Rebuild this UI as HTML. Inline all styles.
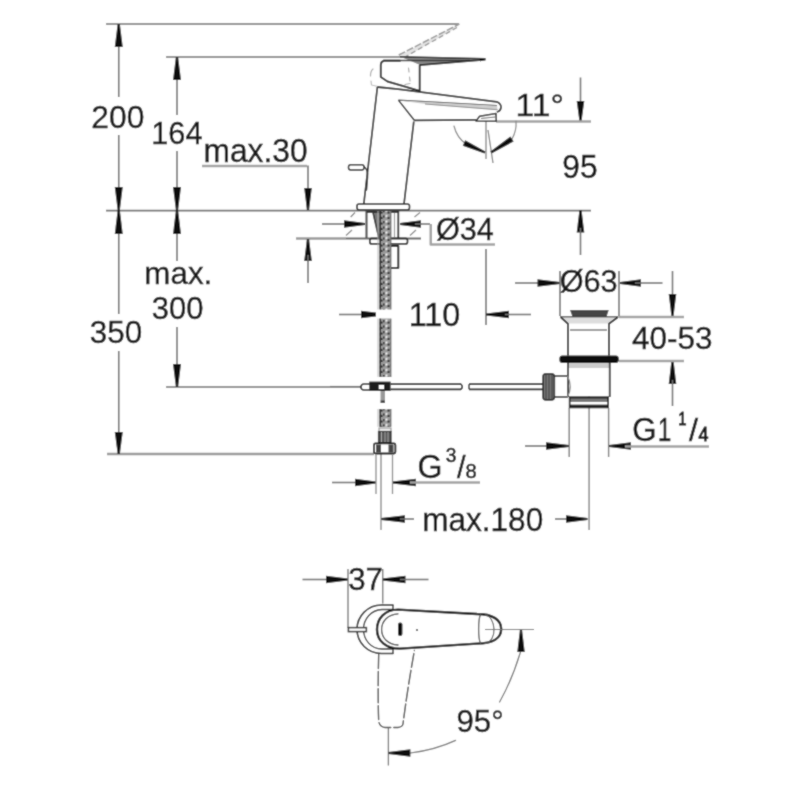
<!DOCTYPE html>
<html><head><meta charset="utf-8"><style>
html,body{margin:0;padding:0;background:#fff;}
svg{display:block;font-family:"Liberation Sans",sans-serif;will-change:transform;}
</style></head><body>
<svg width="800" height="800" viewBox="0 0 800 800">
<defs><filter id="bl" x="0" y="0" width="800" height="800" filterUnits="userSpaceOnUse"><feConvolveMatrix order="3" kernelMatrix="1 2 1 2 12 2 1 2 1" divisor="24" edgeMode="duplicate"/></filter></defs>
<rect width="800" height="800" fill="#fff"/>
<g filter="url(#bl)">
<rect width="800" height="800" fill="#fff"/>
<line x1="106" y1="24" x2="459" y2="24" stroke="#6e6e6e" stroke-width="1.6" />
<line x1="166" y1="57" x2="405" y2="57" stroke="#6e6e6e" stroke-width="1.6" />
<line x1="106" y1="210.6" x2="591" y2="210.6" stroke="#6e6e6e" stroke-width="1.6" />
<line x1="166" y1="387" x2="361" y2="387" stroke="#6e6e6e" stroke-width="1.6" />
<line x1="107" y1="454" x2="374" y2="454" stroke="#999" stroke-width="2.4" />
<line x1="118.75" y1="24" x2="118.75" y2="97" stroke="#6e6e6e" stroke-width="1.6" />
<line x1="118.75" y1="135" x2="118.75" y2="314" stroke="#6e6e6e" stroke-width="1.6" />
<line x1="118.75" y1="351" x2="118.75" y2="454" stroke="#6e6e6e" stroke-width="1.6" />
<polygon points="119.85,24.00 122.75,47.00 114.75,47.00 117.65,24.00" fill="#111"/>
<polygon points="117.65,210.00 114.75,187.00 122.75,187.00 119.85,210.00" fill="#111"/>
<polygon points="119.85,210.00 122.75,234.00 114.75,234.00 117.65,210.00" fill="#111"/>
<polygon points="117.65,454.00 114.75,432.00 122.75,432.00 119.85,454.00" fill="#111"/>
<line x1="177" y1="57" x2="177" y2="115" stroke="#6e6e6e" stroke-width="1.6" />
<line x1="177" y1="151" x2="177" y2="261" stroke="#6e6e6e" stroke-width="1.6" />
<line x1="177" y1="327" x2="177" y2="387" stroke="#6e6e6e" stroke-width="1.6" />
<polygon points="178.10,57.00 181.00,80.00 173.00,80.00 175.90,57.00" fill="#111"/>
<polygon points="175.90,210.00 173.00,187.00 181.00,187.00 178.10,210.00" fill="#111"/>
<polygon points="178.10,210.00 181.00,234.00 173.00,234.00 175.90,210.00" fill="#111"/>
<polygon points="175.90,387.00 173.00,364.00 181.00,364.00 178.10,387.00" fill="#111"/>
<text transform="translate(91.31,128.18) scale(0.9851,1)" font-size="32.25" fill="#141414" stroke="#141414" stroke-width="0.4">200</text>
<text transform="translate(151.30,144.28) scale(0.9678,1)" font-size="31.69" fill="#141414" stroke="#141414" stroke-width="0.4">164</text>
<text transform="translate(89.84,343.48) scale(0.9816,1)" font-size="31.97" fill="#141414" stroke="#141414" stroke-width="0.4">350</text>
<text transform="translate(144.36,283.58) scale(0.9950,1)" font-size="31.50" fill="#141414" stroke="#141414" stroke-width="0.4">max.</text>
<text transform="translate(151.86,319.18) scale(0.9764,1)" font-size="31.69" fill="#141414" stroke="#141414" stroke-width="0.4">300</text>
<text transform="translate(203.54,161.77) scale(0.9758,1)" font-size="32.54" fill="#141414" stroke="#141414" stroke-width="0.4">max.30</text>
<line x1="202" y1="166" x2="307" y2="166" stroke="#a2a2a2" stroke-width="2.5" />
<line x1="308" y1="165.5" x2="308" y2="200" stroke="#6e6e6e" stroke-width="1.6" />
<polygon points="306.90,210.00 304.20,188.00 311.80,188.00 309.10,210.00" fill="#111"/>
<line x1="296" y1="238.5" x2="346" y2="238.5" stroke="#9a9a9a" stroke-width="2.6" />
<line x1="346" y1="238.5" x2="421" y2="238.5" stroke="#666" stroke-width="2.2" />
<polygon points="309.10,239.00 311.80,261.00 304.20,261.00 306.90,239.00" fill="#111"/>
<line x1="308" y1="255" x2="308" y2="283" stroke="#6e6e6e" stroke-width="1.6" />
<line x1="322" y1="224" x2="350" y2="224" stroke="#6e6e6e" stroke-width="1.6" />
<polygon points="365.00,225.10 344.00,227.80 344.00,220.20 365.00,222.90" fill="#111"/>
<polygon points="400.00,222.90 421.00,220.20 421.00,227.80 400.00,225.10" fill="#111"/>
<line x1="415" y1="224" x2="430" y2="224" stroke="#6e6e6e" stroke-width="1.6" />
<polyline points="430.75,224 430.75,244.5 495,244.5" fill="none" stroke="#a2a2a2" stroke-width="2.5" stroke-linejoin="round" />
<text transform="translate(435.93,239.63) scale(1.0003,1)" font-size="30.68" fill="#141414" stroke="#141414" stroke-width="0.4">Ø34</text>
<line x1="339" y1="314.5" x2="365" y2="314.5" stroke="#6e6e6e" stroke-width="1.6" />
<polygon points="384.00,315.60 361.00,318.30 361.00,310.70 384.00,313.40" fill="#111"/>
<text transform="translate(408.67,325.57) scale(0.9905,1)" font-size="32.68" fill="#141414" stroke="#141414" stroke-width="0.4">110</text>
<line x1="486" y1="249" x2="486" y2="325" stroke="#6e6e6e" stroke-width="1.6" />
<polygon points="486.00,313.40 509.00,310.70 509.00,318.30 486.00,315.60" fill="#111"/>
<line x1="505" y1="314.5" x2="531" y2="314.5" stroke="#6e6e6e" stroke-width="1.6" />
<line x1="515" y1="283" x2="545" y2="283" stroke="#6e6e6e" stroke-width="1.6" />
<polygon points="560.00,284.10 537.50,286.80 537.50,279.20 560.00,281.90" fill="#111"/>
<polygon points="620.00,281.90 641.00,279.20 641.00,286.80 620.00,284.10" fill="#111"/>
<line x1="635" y1="283" x2="662.5" y2="283" stroke="#6e6e6e" stroke-width="1.6" />
<line x1="560" y1="271" x2="560" y2="316" stroke="#6e6e6e" stroke-width="1.6" />
<line x1="619" y1="271" x2="619" y2="316" stroke="#6e6e6e" stroke-width="1.6" />
<text transform="translate(559.63,292.23) scale(0.9952,1)" font-size="30.81" fill="#141414" stroke="#141414" stroke-width="0.4">Ø63</text>
<line x1="672.5" y1="271" x2="672.5" y2="300" stroke="#6e6e6e" stroke-width="1.6" />
<polygon points="671.40,316.00 668.70,294.00 676.30,294.00 673.60,316.00" fill="#111"/>
<polygon points="673.60,361.00 676.30,384.00 668.70,384.00 671.40,361.00" fill="#111"/>
<line x1="672.5" y1="380" x2="672.5" y2="406" stroke="#6e6e6e" stroke-width="1.6" />
<line x1="619" y1="317" x2="684" y2="317" stroke="#a2a2a2" stroke-width="2.5" />
<line x1="619" y1="361" x2="684" y2="361" stroke="#a2a2a2" stroke-width="2.5" />
<text transform="translate(631.91,348.78) scale(0.9892,1)" font-size="31.83" fill="#141414" stroke="#141414" stroke-width="0.4">40-53</text>
<line x1="580.5" y1="77.5" x2="580.5" y2="105" stroke="#6e6e6e" stroke-width="1.6" />
<polygon points="579.40,121.00 576.70,101.00 584.30,101.00 581.60,121.00" fill="#111"/>
<polygon points="581.60,210.00 584.30,232.50 576.70,232.50 579.40,210.00" fill="#111"/>
<line x1="580.5" y1="228" x2="580.5" y2="255" stroke="#6e6e6e" stroke-width="1.6" />
<line x1="496" y1="121.5" x2="591" y2="121.5" stroke="#a2a2a2" stroke-width="2.5" />
<text transform="translate(562.32,177.77) scale(0.9746,1)" font-size="32.54" fill="#141414" stroke="#141414" stroke-width="0.4">95</text>
<text transform="translate(515.57,116.25) scale(1.0482,1)" font-size="32.14" fill="#141414" stroke="#141414" stroke-width="0.4">11°</text>
<line x1="486" y1="121" x2="486" y2="159" stroke="#777" stroke-width="1.2" />
<line x1="488" y1="130" x2="493" y2="163" stroke="#777" stroke-width="1.2" />
<path d="M454,126 A31,31 0 0,0 466,144" fill="none" stroke="#888" stroke-width="1.2" stroke-linejoin="round" stroke-linecap="round" />
<polygon points="484.55,153.50 462.76,145.73 465.24,140.27 485.45,151.50" fill="#111"/>
<path d="M516,121 A31,31 0 0,1 512,139" fill="none" stroke="#888" stroke-width="1.2" stroke-linejoin="round" stroke-linecap="round" />
<polygon points="490.41,151.57 510.38,136.48 513.62,141.52 491.59,153.43" fill="#111"/>
<line x1="525" y1="446" x2="550" y2="446" stroke="#6e6e6e" stroke-width="1.6" />
<polygon points="569.00,447.10 546.00,449.80 546.00,442.20 569.00,444.90" fill="#111"/>
<polygon points="609.00,444.90 631.00,442.20 631.00,449.80 609.00,447.10" fill="#111"/>
<line x1="625" y1="446.5" x2="709" y2="446.5" stroke="#a2a2a2" stroke-width="2.5" />
<text transform="translate(632.24,440.67) scale(0.9413,1)" font-size="33.17" fill="#141414" stroke="#141414" stroke-width="0.4">G</text>
<text transform="translate(657.67,441.00) scale(0.7326,1)" font-size="33.33" fill="#141414" stroke="#141414" stroke-width="0.4">1</text>
<text transform="translate(678.29,424.80) scale(0.8087,1)" font-size="18.26" fill="#141414" stroke="#141414" stroke-width="0.9">1</text>
<text transform="translate(688.90,441.28) scale(1.0079,1)" font-size="32.11" fill="#141414" stroke="#141414" stroke-width="0.5">/</text>
<text transform="translate(698.45,441.00) scale(0.9031,1)" font-size="19.71" fill="#141414" stroke="#141414" stroke-width="1.0">4</text>
<line x1="332" y1="482.5" x2="360" y2="482.5" stroke="#6e6e6e" stroke-width="1.6" />
<polygon points="376.00,483.60 355.00,486.30 355.00,478.70 376.00,481.40" fill="#111"/>
<polygon points="392.00,481.40 416.00,478.70 416.00,486.30 392.00,483.60" fill="#111"/>
<line x1="410" y1="482.5" x2="480" y2="482.5" stroke="#a2a2a2" stroke-width="2.5" />
<text transform="translate(417.40,477.68) scale(0.9897,1)" font-size="32.39" fill="#141414" stroke="#141414" stroke-width="0.4">G</text>
<text transform="translate(445.73,462.30) scale(0.9711,1)" font-size="19.72" fill="#141414" stroke="#141414" stroke-width="0.6">3</text>
<text transform="translate(457.00,477.69) scale(0.9877,1)" font-size="31.29" fill="#141414" stroke="#141414" stroke-width="0.4">/</text>
<text transform="translate(465.59,478.29) scale(0.9567,1)" font-size="21.13" fill="#141414" stroke="#141414" stroke-width="0.5">8</text>
<polygon points="381.00,517.90 405.00,515.20 405.00,522.80 381.00,520.10" fill="#111"/>
<line x1="400" y1="519" x2="414" y2="519" stroke="#6e6e6e" stroke-width="1.6" />
<text transform="translate(422.25,530.57) scale(0.9649,1)" font-size="32.68" fill="#141414" stroke="#141414" stroke-width="0.4">max.180</text>
<line x1="555" y1="519" x2="570" y2="519" stroke="#6e6e6e" stroke-width="1.6" />
<polygon points="587.50,520.10 566.00,522.80 566.00,515.20 587.50,517.90" fill="#111"/>
<line x1="589.1" y1="396" x2="589.1" y2="530" stroke="#888" stroke-width="1.5" />
<line x1="381" y1="454" x2="381" y2="530" stroke="#777" stroke-width="1.2" />
<polygon points="398.75,55.5 459.4,23.8 456,28 404,58" fill="#e4e4e4"/>
<polyline points="398.75,55 459.4,24" fill="none" stroke="#999" stroke-width="1.5" stroke-linejoin="round" stroke-dasharray="7,2"/>
<polyline points="404,57.5 457,27.5" fill="none" stroke="#999" stroke-width="1.4" stroke-linejoin="round" stroke-dasharray="5,3"/>
<polygon points="400,56.5 485.5,59 420,65" fill="#888"/>
<polyline points="383,60.5 470,60.5" fill="none" stroke="#333" stroke-width="1.5" stroke-linejoin="round" />
<polyline points="400,56.8 485.5,58.8" fill="none" stroke="#222" stroke-width="1.5" stroke-linejoin="round" />
<polyline points="419.7,65.2 485.5,59.6" fill="none" stroke="#222" stroke-width="1.8" stroke-linejoin="round" />
<polygon points="480,58.5 486,59 480,61.5" fill="#111"/>
<path d="M400,60.8 L384,60.8 Q380.8,61.5 380.8,65 L380.8,77 L387.5,81.5 L419.7,90.8 L419.7,65.5" fill="none" stroke="#222" stroke-width="1.9" stroke-linejoin="round" stroke-linecap="round" />
<path d="M373,69 Q370.5,71 370.5,76" fill="none" stroke="#aaa" stroke-width="1.2" stroke-linejoin="round" stroke-linecap="round" />
<path d="M371,81 L371.5,85 L378,86.5" fill="none" stroke="#bbb" stroke-width="1.2" stroke-linejoin="round" stroke-linecap="round" />
<path d="M408.5,68 L409,72 M409.5,77 L410,81 M410,83.5 L405,84.5" fill="none" stroke="#aaa" stroke-width="1.2" stroke-linejoin="round" stroke-linecap="round" />
<polyline points="377.4,87 398,89.2 496.8,101.8" fill="none" stroke="#222" stroke-width="1.8" stroke-linejoin="round" />
<path d="M496.8,101.8 Q501.5,104 501,107.7 Q500.5,111 497.5,111.8" fill="none" stroke="#222" stroke-width="1.7" stroke-linejoin="round" stroke-linecap="round" />
<polyline points="398.4,100.1 497,105.6" fill="none" stroke="#444" stroke-width="1.3" stroke-linejoin="round" />
<polygon points="400,100.5 497,105.8 497.5,109.8 425,104" fill="#cfcfcf"/>
<polyline points="425,104 497.5,109.8" fill="none" stroke="#888" stroke-width="1.1" stroke-linejoin="round" />
<polyline points="398.4,100.1 414.3,120.3" fill="none" stroke="#222" stroke-width="1.5" stroke-linejoin="round" />
<polyline points="414.3,120.3 476,119.8" fill="none" stroke="#222" stroke-width="1.7" stroke-linejoin="round" />
<path d="M476,121 L479.6,116.3 L496,113.5 L496.3,121.2 Z" fill="none" stroke="#222" stroke-width="1.5" stroke-linejoin="round" stroke-linecap="round" />
<line x1="481" y1="118.5" x2="495" y2="117" stroke="#666" stroke-width="1" />
<polyline points="377.4,87 363.8,204" fill="none" stroke="#222" stroke-width="1.7" stroke-linejoin="round" />
<polyline points="413.8,121.5 404,204" fill="none" stroke="#222" stroke-width="1.7" stroke-linejoin="round" />
<rect x="348.5" y="164.8" width="15.5" height="5.2" rx="2.2" fill="#fff" stroke="#222" stroke-width="1.5"/>
<path d="M364,166.5 Q368.5,170 367.5,178 L366.5,190" fill="none" stroke="#222" stroke-width="1.4" stroke-linejoin="round" stroke-linecap="round" />
<rect x="357" y="204" width="52.5" height="5.8" rx="2" fill="none" stroke="#222" stroke-width="1.6"/>
<line x1="366.5" y1="211" x2="366.5" y2="238" stroke="#555" stroke-width="2.2" />
<line x1="398.3" y1="211" x2="398.3" y2="238" stroke="#222" stroke-width="1.8" />
<polygon points="372.6,211 380,211 380,238 378.8,238" fill="#777"/>
<polyline points="372.6,211 378.8,238" fill="none" stroke="#222" stroke-width="1.4" stroke-linejoin="round" />
<line x1="366.5" y1="212" x2="398.3" y2="212" stroke="#333" stroke-width="2.2" />
<line x1="394.5" y1="213" x2="394.5" y2="238" stroke="#999" stroke-width="1.2" />
<rect x="369.8" y="238.3" width="37.7" height="5.6" rx="2" fill="none" stroke="#222" stroke-width="1.7"/>
<line x1="350.7" y1="217" x2="355" y2="212.5" stroke="#888" stroke-width="1.3" />
<line x1="346" y1="235.5" x2="352" y2="230" stroke="#888" stroke-width="1.3" />
<line x1="414.5" y1="217" x2="420" y2="212.5" stroke="#888" stroke-width="1.3" />
<line x1="410" y1="235.5" x2="416" y2="230" stroke="#888" stroke-width="1.3" />
<path d="M391,246 L398.3,246 L398.3,268 L391,268" fill="none" stroke="#222" stroke-width="2" stroke-linejoin="round" stroke-linecap="round" />
<defs><pattern id="br" x="0" y="0" width="7" height="5.5" patternUnits="userSpaceOnUse"><rect width="7" height="5.5" fill="#9a9a9a"/><rect x="0.5" y="0.5" width="2" height="2" fill="#f4f4f4"/><rect x="2.5" y="2.5" width="2" height="2" fill="#222"/><rect x="5" y="1" width="1.6" height="2.2" fill="#333"/></pattern></defs>
<rect x="379.5" y="211" width="11.5" height="165.89999999999998" fill="url(#br)"/>
<line x1="380.2" y1="211" x2="380.2" y2="376.9" stroke="#222" stroke-width="1.5" />
<line x1="378" y1="211" x2="378" y2="376.9" stroke="#bbb" stroke-width="1" />
<line x1="390.8" y1="211" x2="390.8" y2="376.9" stroke="#777" stroke-width="1.3" />
<rect x="379.5" y="409" width="11.5" height="17.80000000000001" fill="url(#br)"/>
<line x1="380.2" y1="409" x2="380.2" y2="426.8" stroke="#222" stroke-width="1.5" />
<line x1="378" y1="409" x2="378" y2="426.8" stroke="#bbb" stroke-width="1" />
<line x1="390.8" y1="409" x2="390.8" y2="426.8" stroke="#777" stroke-width="1.3" />
<rect x="376" y="309.5" width="17" height="9" fill="#fff"/>
<polygon points="384,314.5 394,309.5 394,319.5" fill="#fff"/>
<rect x="380.5" y="391" width="4.5" height="10" rx="0" fill="#999" stroke="none" stroke-width="0"/>
<rect x="380.5" y="400.5" width="4.5" height="2.5" rx="0" fill="#444" stroke="none" stroke-width="0"/>
<rect x="379" y="428" width="12" height="3.5" rx="0" fill="#eee" stroke="#888" stroke-width="1"/>
<rect x="378.5" y="431.5" width="12.5" height="11.3" rx="0" fill="#555" stroke="#222" stroke-width="1.2"/>
<line x1="381.5" y1="432" x2="381.5" y2="442" stroke="#bbb" stroke-width="0.8" />
<line x1="385" y1="432" x2="385" y2="442" stroke="#bbb" stroke-width="0.8" />
<line x1="388" y1="432" x2="388" y2="442" stroke="#bbb" stroke-width="0.8" />
<rect x="374" y="443.4" width="21.4" height="10.1" rx="1.5" fill="#fff" stroke="#111" stroke-width="1.8"/>
<rect x="376" y="444.5" width="5" height="8" rx="0" fill="#444" stroke="none" stroke-width="0"/>
<rect x="388.5" y="444.5" width="5" height="8" rx="0" fill="#444" stroke="none" stroke-width="0"/>
<line x1="376" y1="454" x2="376" y2="494" stroke="#888" stroke-width="1.3" />
<line x1="392.5" y1="454" x2="392.5" y2="494" stroke="#888" stroke-width="1.3" />
<line x1="330" y1="386.5" x2="361" y2="386.5" stroke="#6e6e6e" stroke-width="1.2" />
<path d="M369.5,384 L364,384 Q361,384 361,387 Q361,390 364,390 L369.5,390" fill="none" stroke="#222" stroke-width="1.6" stroke-linejoin="round" stroke-linecap="round" />
<rect x="369.25" y="381.6" width="21.35" height="9.4" rx="0" fill="#1a1a1a" stroke="none" stroke-width="0"/>
<rect x="378.75" y="385" width="5.25" height="4" rx="0" fill="#fff" stroke="none" stroke-width="0"/>
<line x1="390.6" y1="384.2" x2="461" y2="384.2" stroke="#111" stroke-width="1.8" />
<line x1="390.6" y1="389.3" x2="461" y2="389.3" stroke="#111" stroke-width="1.8" />
<path d="M461,384.2 Q463.5,386.8 461,389.3" fill="none" stroke="#111" stroke-width="1.5" stroke-linejoin="round" stroke-linecap="round" />
<line x1="469" y1="384.2" x2="543" y2="384.2" stroke="#111" stroke-width="1.8" />
<line x1="469" y1="389.3" x2="543" y2="389.3" stroke="#111" stroke-width="1.8" />
<line x1="469" y1="384.2" x2="469" y2="389.3" stroke="#111" stroke-width="1.3" />
<polygon points="570,310 608.75,310 606.5,317 572.5,317" fill="#444"/>
<line x1="560" y1="317" x2="618.5" y2="317" stroke="#333" stroke-width="1.6" />
<polygon points="561,317.5 617.5,317.5 609,323.5 568,323.5" fill="#ddd"/>
<polyline points="561,317.5 568,323.8 568,355.6" fill="none" stroke="#222" stroke-width="1.8" stroke-linejoin="round" />
<polyline points="617.5,317.5 609,323.8 609,355.6" fill="none" stroke="#222" stroke-width="1.8" stroke-linejoin="round" />
<line x1="570" y1="330" x2="607" y2="330" stroke="#999" stroke-width="2" />
<rect x="559.4" y="355.6" width="59.35" height="7.4" rx="3" fill="#0a0a0a" stroke="none" stroke-width="0"/>
<rect x="567.5" y="363" width="42.5" height="5" fill="#ccc"/>
<polyline points="568,363 568,397" fill="none" stroke="#444" stroke-width="2" stroke-linejoin="round" />
<polyline points="609.8,363 609.8,397" fill="none" stroke="#444" stroke-width="2" stroke-linejoin="round" />
<rect x="568.8" y="396.3" width="40.2" height="12" fill="#222"/>
<rect x="570.5" y="398.5" width="36.8" height="3.5" fill="#777"/>
<rect x="570.5" y="402" width="36.8" height="2.6" fill="#fff"/>
<line x1="569.2" y1="408" x2="569.2" y2="457" stroke="#777" stroke-width="1.4" />
<line x1="608.6" y1="408" x2="608.6" y2="457" stroke="#777" stroke-width="1.4" />
<path d="M554,376 L567.5,376 M554,397 L567.5,397" fill="none" stroke="#222" stroke-width="1.4" stroke-linejoin="round" stroke-linecap="round" />
<path d="M567.5,376 Q573,386.5 567.5,397" fill="none" stroke="#888" stroke-width="1.2" stroke-linejoin="round" stroke-linecap="round" />
<rect x="543" y="373.75" width="11.4" height="26.25" rx="3" fill="#777" stroke="#222" stroke-width="1.5"/>
<line x1="546" y1="375" x2="546" y2="399" stroke="#333" stroke-width="0.9" />
<line x1="549" y1="375" x2="549" y2="399" stroke="#333" stroke-width="0.9" />
<line x1="552" y1="375" x2="552" y2="399" stroke="#333" stroke-width="0.9" />
<line x1="302.5" y1="579.5" x2="330" y2="579.5" stroke="#6e6e6e" stroke-width="1.6" />
<polygon points="348.00,580.60 326.00,583.25 326.00,575.75 348.00,578.40" fill="#111"/>
<polygon points="382.00,578.40 405.50,575.75 405.50,583.25 382.00,580.60" fill="#111"/>
<line x1="400" y1="579.5" x2="428.5" y2="579.5" stroke="#6e6e6e" stroke-width="1.6" />
<line x1="348" y1="569" x2="348" y2="628" stroke="#6e6e6e" stroke-width="1.3" />
<line x1="382.75" y1="569" x2="382.75" y2="603.5" stroke="#6e6e6e" stroke-width="1.3" />
<text transform="translate(348.15,590.29) scale(1.0146,1)" font-size="30.77" fill="#141414" stroke="#141414" stroke-width="0.4">37</text>
<path d="M393,605 L381.3,605 C368,605 357,616 357,629.3 C357,643 368,653.5 381.3,653.5 L393,653.5" fill="none" stroke="#222" stroke-width="1.6" stroke-linejoin="round" stroke-linecap="round" />
<path d="M393,609.5 L382,609.5 C371,610 363.5,619 363.5,629.3 C363.5,640 371,649 382,649 L393,649" fill="none" stroke="#333" stroke-width="1.3" stroke-linejoin="round" stroke-linecap="round" />
<line x1="393" y1="605" x2="393" y2="610" stroke="#222" stroke-width="1.3" />
<line x1="393" y1="649" x2="393" y2="653.5" stroke="#222" stroke-width="1.3" />
<rect x="348.4" y="627.6" width="18" height="4" rx="0" fill="#fff" stroke="#222" stroke-width="1.5"/>
<path d="M477,614 L398,609.6 C385,609.6 377,618.5 377,629.5 C377,641 386,648.6 400,648.6 L477,643.6 C493,643.6 501.2,638 501.2,629 C501.2,620 493,614 477,614 Z" fill="#fff" stroke="#111" stroke-width="2.4" stroke-linejoin="round" stroke-linecap="round" />
<path d="M398,613.8 C388,614.5 381.6,621 381.6,629.5 C381.6,638 388,644.5 398,645" fill="none" stroke="#444" stroke-width="1.3" stroke-linejoin="round" stroke-linecap="round" />
<path d="M480.5,614.5 C478,620 478,638 480.5,643.5" fill="none" stroke="#555" stroke-width="1.3" stroke-linejoin="round" stroke-linecap="round" />
<path d="M485,614.5 C496,617 498,641 485,643.5" fill="none" stroke="#555" stroke-width="1.1" stroke-linejoin="round" stroke-linecap="round" />
<rect x="398" y="622.6" width="4.4" height="13.4" rx="2" fill="#111" stroke="#000" stroke-width="0"/>
<circle cx="417" cy="630" r="1.1" fill="#444"/>
<line x1="485" y1="629.5" x2="534" y2="629.5" stroke="#6e6e6e" stroke-width="1.2" />
<path d="M378.7,654.5 C378,680 378,705 378.7,721 Q379.5,727 385,727.5 L398,727.5 Q402.5,727 403,724 C406,700 410,675 414.4,650.5" fill="none" stroke="#444" stroke-width="1.4" stroke-linejoin="round" stroke-linecap="round" stroke-dasharray="14,3"/>
<line x1="388.4" y1="728" x2="388.4" y2="765.5" stroke="#6e6e6e" stroke-width="1.3" />
<path d="M520.5,652 Q512,680 499.6,702" fill="none" stroke="#6e6e6e" stroke-width="1.2" stroke-linejoin="round" stroke-linecap="round" />
<polygon points="522.10,630.00 524.75,652.00 517.25,652.00 519.90,630.00" fill="#111"/>
<path d="M455.6,740.4 Q435,750 410.4,753" fill="none" stroke="#6e6e6e" stroke-width="1.2" stroke-linejoin="round" stroke-linecap="round" />
<polygon points="388.40,751.90 410.40,749.25 410.40,756.75 388.40,754.10" fill="#111"/>
<text transform="translate(456.49,731.93) scale(0.9860,1)" font-size="31.69" fill="#141414" stroke="#141414" stroke-width="0.4">95°</text>
</g>
</svg></body></html>
